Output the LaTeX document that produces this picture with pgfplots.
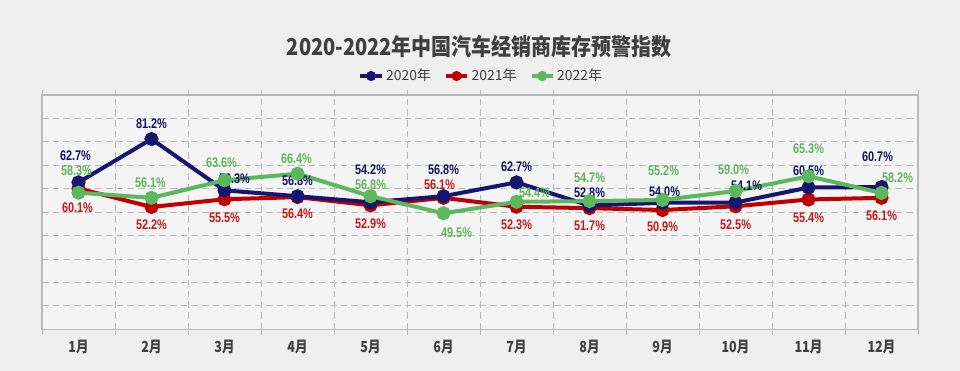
\documentclass[border=0pt]{standalone}
\usepackage{pgfplots}
\pgfplotsset{compat=1.18}
\usepackage{fontspec}
\setmainfont{Liberation Sans}
\newfontfamily\cjk{Noto Sans CJK SC}
\definecolor{cA}{RGB}{22,22,112}
\definecolor{cB}{RGB}{192,0,0}
\definecolor{cC}{RGB}{92,184,92}
\definecolor{lA}{RGB}{18,18,100}
\definecolor{lB}{RGB}{195,25,25}
\definecolor{lC}{RGB}{96,180,90}
\definecolor{bg}{RGB}{239,239,239}
\definecolor{pbg}{RGB}{244,244,244}
\definecolor{txt}{RGB}{64,64,64}
\definecolor{grd}{RGB}{185,185,185}
\newcommand{\lab}[5]{\node[font=\bfseries\fontsize{10.5}{10}\selectfont, text=#5, inner sep=0pt, xshift={(#3)*0.75bp}, yshift={-1*(#4)*0.75bp}] at (axis cs:#1,#2) {\scalebox{0.78}[1]{#2\%}};}
\begin{document}
\begin{tikzpicture}
\fill[bg] (-31.5bp,-31.3bp) rectangle (688.5bp,246.95bp);
\begin{axis}[at={(0,0)}, anchor=south west, scale only axis,
  width=657bp, height=175.7bp,
  xmin=0.5, xmax=12.5, ymin=0, ymax=100,
  xtick={1,...,12},
  xticklabels={1月,2月,3月,4月,5月,6月,7月,8月,9月,10月,11月,12月},
  xticklabel style={font=\cjk\bfseries\fontsize{11.5}{12}\selectfont, text=txt, anchor=center, yshift=-13.3bp, xscale=0.82},
  minor xtick={0.5,1.5,...,12.5},
  ytick={0,10,...,100}, yticklabels={},
  ymajorgrids, xminorgrids,
  grid style={dash pattern=on 5bp off 3bp, grd, line width=0.6bp},
  minor grid style={dash pattern=on 5bp off 3bp, grd, line width=0.6bp},
  axis line style={grd, line width=0.8bp},
  major tick length=0pt, minor tick length=4bp, tick align=outside,
  minor tick style={grd, line width=0.6bp},
  axis background/.style={fill=pbg},
  clip=false,
  legend columns=3,
  legend style={at={(0.502,1.081)}, anchor=center, draw=none, fill=none,
    font=\cjk\fontsize{10.5}{12}\selectfont, text=txt,
    /tikz/every even column/.append style={column sep=8bp}},
  legend image code/.code={\draw[#1, line width=2.5bp] (0bp,0bp) -- (16bp,0bp); \fill[#1] (8bp,0bp) circle (3.6bp);},
]
\addlegendimage{cA}
\addlegendentry{2020年}
\addlegendimage{cB}
\addlegendentry{2021年}
\addlegendimage{cC}
\addlegendentry{2022年}
\addplot[cB, line width=3bp, mark=*, mark size=3.75bp, mark options={solid, fill=cB, draw=cB}, forget plot] coordinates {
(1,60.1) (2,52.2) (3,55.5) (4,56.4) (5,52.9) (6,56.1) (7,52.3) (8,51.7) (9,50.9) (10,52.5) (11,55.4) (12,56.1)};
\addplot[cA, line width=3bp, mark=*, mark size=3.75bp, mark options={solid, fill=cA, draw=cA}, forget plot] coordinates {
(1,62.7) (2,81.2) (3,59.3) (4,56.8) (5,54.2) (6,56.8) (7,62.7) (8,52.8) (9,54.0) (10,54.1) (11,60.5) (12,60.7)};
\addplot[cC, line width=3bp, mark=*, mark size=3.75bp, mark options={solid, fill=cC, draw=cC}, forget plot] coordinates {
(1,58.3) (2,56.1) (3,63.6) (4,66.4) (5,56.8) (6,49.5) (7,54.4) (8,54.7) (9,55.2) (10,59.0) (11,65.3) (12,58.2)};
% 2020 labels
\lab{1}{62.7}{-3}{-27}{lA}
\lab{2}{81.2}{0}{-15}{lA}
\lab{3}{59.3}{10}{-12}{lA}
\lab{4}{56.8}{0}{-16}{lA}
\lab{5}{54.2}{0}{-33}{lA}
\lab{6}{56.8}{0}{-27}{lA}
\lab{7}{62.7}{0}{-16}{lA}
\lab{8}{52.8}{0}{-13}{lA}
\lab{9}{54.0}{2}{-11}{lA}
\lab{10}{54.1}{11}{-17}{lA}
\lab{11}{60.5}{0}{-17}{lA}
\lab{12}{60.7}{-4}{-30}{lA}
% 2021 labels
\lab{1}{60.1}{-1}{19}{lB}
\lab{2}{52.2}{0}{18}{lB}
\lab{3}{55.5}{0}{18}{lB}
\lab{4}{56.4}{0}{17}{lB}
\lab{5}{52.9}{0}{18}{lB}
\lab{6}{56.1}{-4}{-13}{lB}
\lab{7}{52.3}{0}{18}{lB}
\lab{8}{51.7}{0}{17.5}{lB}
\lab{9}{50.9}{0}{17}{lB}
\lab{10}{52.5}{0}{18}{lB}
\lab{11}{55.4}{0}{18}{lB}
\lab{12}{56.1}{0}{18}{lB}
% 2022 labels
\lab{1}{58.3}{-2}{-22}{lC}
\lab{2}{56.1}{-1}{-15}{lC}
\lab{3}{63.6}{-3}{-17.5}{lC}
\lab{4}{66.4}{-1}{-15}{lC}
\lab{5}{56.8}{0}{-12}{lC}
\lab{6}{49.5}{13}{19}{lC}
\lab{7}{54.4}{18}{-9}{lC}
\lab{8}{54.7}{0}{-23}{lC}
\lab{9}{55.2}{1}{-29}{lC}
\lab{10}{59.0}{-2}{-21}{lC}
\lab{11}{65.3}{0}{-28}{lC}
\lab{12}{58.2}{16}{-15}{lC}
\end{axis}
\node[font=\cjk\bfseries\fontsize{17.5}{20}\selectfont, text=txt, xscale=0.86] at (328bp,211.7bp) {2020-2022年中国汽车经销商库存预警指数};
\pgfresetboundingbox
\path[use as bounding box] (-31.5bp,-31.3bp) rectangle (688.5bp,246.95bp);
\end{tikzpicture}
\end{document}
